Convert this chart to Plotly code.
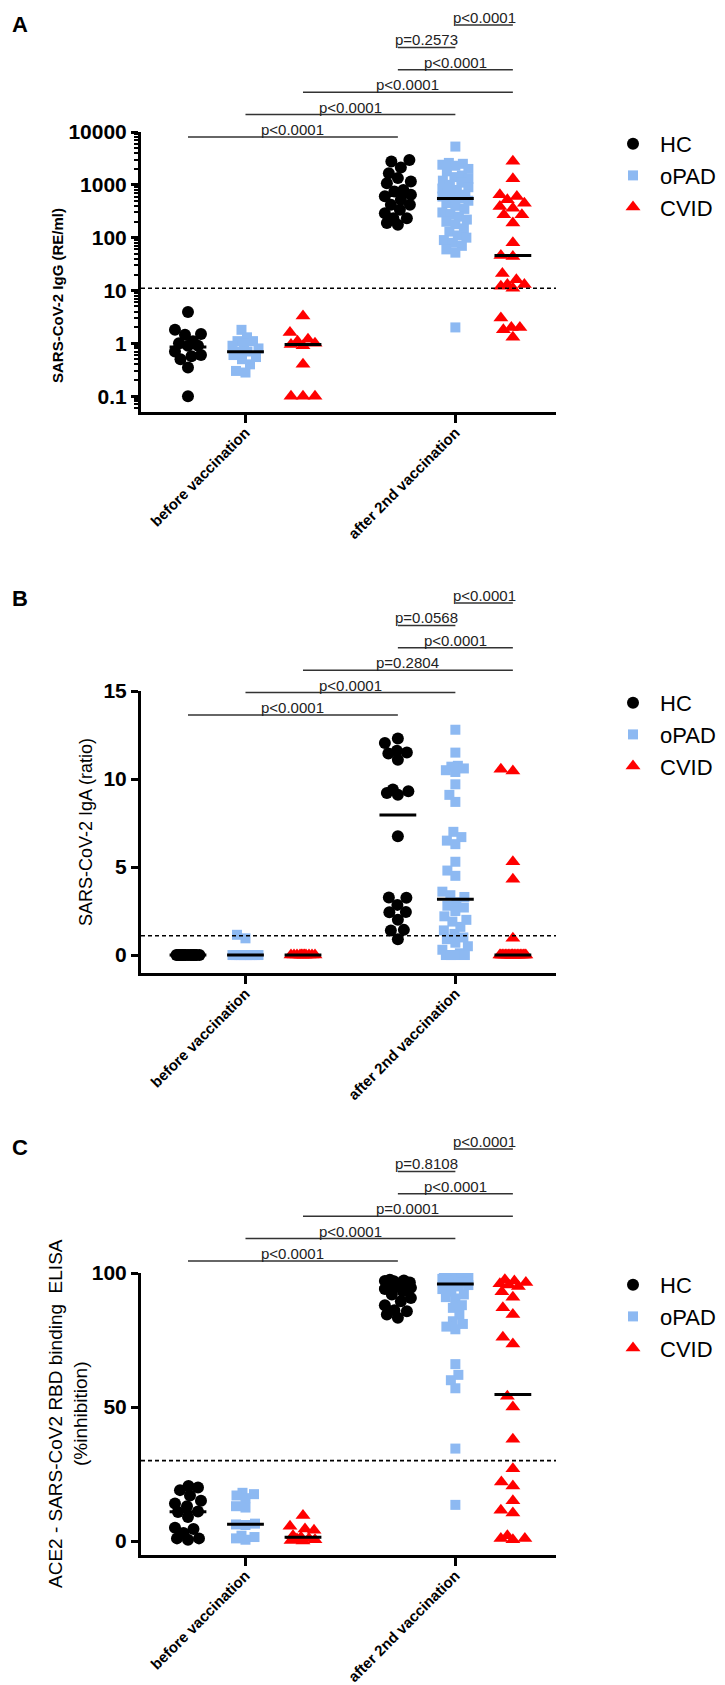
import numpy as np
import plotly.graph_objects as go

# ==========================================
# 1. data
# ==========================================
GROUPS = ["HC", "oPAD", "CVID"]
TIMEPOINTS = ["before vaccination", "after 2nd vaccination"]

# --- A: SARS-CoV-2 IgG (RE/ml), log scale ---
IGG_HC_BEFORE = [3.9, 1.8, 1.5, 1.45, 1.1, 1.0, 0.9, 0.9, 0.7, 0.6, 0.57, 0.5, 0.35, 0.1]
IGG_OPAD_BEFORE = [1.8, 1.3, 1.1, 1.1, 1.0, 0.9, 0.8, 0.7, 0.7, 0.6, 0.55, 0.5, 0.4, 0.3, 0.28]
IGG_CVID_BEFORE = [3.3, 1.6, 1.2, 1.1, 1.0, 0.95, 0.9, 0.4, 0.1, 0.1, 0.1]
IGG_HC_AFTER = [2950, 2770, 2130, 1660, 1340, 1160, 1075, 800, 750, 650,
                610, 520, 420, 420, 337, 291, 234, 234, 189, 175]
IGG_OPAD_AFTER = [5300, 2600, 2500, 2400, 2300, 2000, 1800, 1500, 1400, 1300,
                  1200, 1100, 1000, 900, 850, 800, 700, 650, 600, 560,
                  550, 500, 450, 400, 350, 300, 280, 250, 220, 200,
                  180, 150, 130, 110, 100, 90, 80, 70, 60, 52, 2.0]
IGG_CVID_AFTER = [2800, 1300, 650, 600, 520, 450, 390, 360, 270, 270, 190, 80,
                  46, 44, 21, 16, 13, 13, 12, 11, 3.0, 2.0, 2.0, 1.8, 1.3]
IGG_MEDIANS = [0.85, 0.69, 0.95, 630, 550, 46]
IGG_CUTOFF = 11
IGG_TICKS = [0.1, 1, 10, 100, 1000, 10000]
IGG_TICKTEXT = ["0.1", "1", "10", "100", "1000", "10000"]
IGG_PVALS = ["p<0.0001", "p<0.0001", "p<0.0001", "p<0.0001", "p=0.2573", "p<0.0001"]

# --- B: SARS-CoV-2 IgA (ratio) ---
IGA_HC_BEFORE = [0, 0, 0, 0, 0, 0, 0, 0, 0, 0, 0, 0, 0, 0]
IGA_OPAD_BEFORE = [1.15, 0.95, 0, 0, 0, 0, 0, 0, 0, 0, 0, 0, 0]
IGA_CVID_BEFORE = [0, 0, 0, 0, 0, 0, 0, 0, 0, 0, 0]
IGA_HC_AFTER = [12.3, 12.05, 11.6, 11.5, 11.45, 11.1, 9.4, 9.3, 9.2, 9.1,
                6.75, 3.27, 3.25, 2.85, 2.45, 2.43, 2.0, 1.43, 1.4, 0.9]
IGA_OPAD_AFTER = [12.8, 11.5, 10.75, 10.7, 10.6, 10.5, 10.4, 9.7, 9.1, 8.7,
                  7.0, 6.7, 6.5, 6.3, 5.3, 4.8, 4.5, 3.6, 3.4, 3.3,
                  3.0, 2.8, 2.7, 2.5, 2.2, 2.0, 1.9, 1.6, 1.4, 1.2,
                  1.0, 0.9, 0.7, 0.5, 0.3, 0.1, 0, 0, 0, 0]
IGA_CVID_AFTER = [10.55, 10.45, 5.3, 4.3, 0.95, 0, 0, 0, 0, 0,
                  0, 0, 0, 0, 0, 0, 0, 0, 0, 0, 0, 0, 0, 0, 0]
IGA_MEDIANS = [0, 0, 0, 7.95, 3.17, 0]
IGA_CUTOFF = 1.1
IGA_TICKS = [0, 5, 10, 15]
IGA_PVALS = ["p<0.0001", "p<0.0001", "p=0.2804", "p<0.0001", "p=0.0568", "p<0.0001"]

# --- C: ACE2 - RBD binding ELISA (%inhibition) ---
ACE_HC_BEFORE = [20.5, 20, 19, 17, 15, 14, 13, 11, 10.8, 9, 5, 4.5, 3, 1, 1, 0.5]
ACE_OPAD_BEFORE = [18, 17.5, 17, 16, 13, 12.5, 6.5, 6.2, 6, 2, 1.5, 1, 0.5]
ACE_CVID_BEFORE = [9.5, 5.5, 4.5, 4, 2, 1.4, 1, 0.8, 0.5, 0.2, 0]
ACE_HC_AFTER = [97.5, 97.2, 97, 96.9, 96.5, 96.2, 96, 95.5, 95, 94.5,
                94, 93.2, 92, 90.7, 89.5, 88, 86.1, 85.7, 84.5, 83.3]
ACE_OPAD_AFTER = [100, 99.8, 99.6, 99.5, 99.2, 99, 98.8, 98.5, 98.2, 98,
                  97.8, 97.5, 97.2, 97, 96.8, 96.5, 96.2, 96, 95.8, 95.5,
                  95, 94, 93, 92, 91, 90.5, 88, 87, 84.5, 82,
                  81, 80, 79, 66, 62, 60, 57, 34.5, 13.5]
ACE_CVID_AFTER = [97.5, 97, 96.5, 96, 95.5, 95, 93, 91, 87, 84.5, 76, 73.5,
                  54, 50, 38, 27, 22, 20.5, 15, 11.5, 10.5, 2, 1, 1, 0.5]
ACE_MEDIANS = [10.9, 6.25, 1.4, 94.5, 95.9, 54.7]
ACE_CUTOFF = 30
ACE_TICKS = [0, 50, 100]
ACE_PVALS = ["p<0.0001", "p<0.0001", "p=0.0001", "p<0.0001", "p=0.8108", "p<0.0001"]

# comparisons, lowest bracket first (column indices)
PAIRS = [(0, 3), (1, 4), (2, 5), (3, 5), (3, 4), (4, 5)]

# ==========================================
# 2. look & layout
# ==========================================
W, H = 725, 1685
FONT = "Liberation Sans, Arial, sans-serif"
COLORS = {"HC": "#000000", "oPAD": "#8DB9F2", "CVID": "#FF0000"}
SYMBOLS = {"HC": "circle", "oPAD": "square", "CVID": "triangle-up"}
SIZES = {"HC": 12, "oPAD": 10, "CVID": 13}

X_LEFT, X_RIGHT = 133, 548          # px of the x axis
COL_X = [1, 2, 3, 4.65, 5.65, 6.65]  # column centres
XRANGE = [0.183, 7.4]
TICK_X = [2, 5.65]
MED_HALF = 0.32
SWARM_HALF = 13                     # px
BRACKET_STEP = 22.4                 # px

PANELS = [
    dict(letter="A", cols=[IGG_HC_BEFORE, IGG_OPAD_BEFORE, IGG_CVID_BEFORE,
                           IGG_HC_AFTER, IGG_OPAD_AFTER, IGG_CVID_AFTER],
         med=IGG_MEDIANS, cut=IGG_CUTOFF, pvals=IGG_PVALS, log=True,
         yrange=[-1.3, 4], ticks=IGG_TICKS, ticktext=IGG_TICKTEXT,
         top=124, bottom=404, bracket0=129, letter_y=17,
         title="<b>SARS-CoV-2 IgG (RE/ml)</b>", title_x=50, title_y=288, title_size=15),
    dict(letter="B", cols=[IGA_HC_BEFORE, IGA_OPAD_BEFORE, IGA_CVID_BEFORE,
                           IGA_HC_AFTER, IGA_OPAD_AFTER, IGA_CVID_AFTER],
         med=IGA_MEDIANS, cut=IGA_CUTOFF, pvals=IGA_PVALS, log=False,
         yrange=[-1.02, 15], ticks=IGA_TICKS, ticktext=[str(t) for t in IGA_TICKS],
         top=683, bottom=965, bracket0=707, letter_y=590,
         title="SARS-CoV-2 IgA (ratio)", title_x=78, title_y=824, title_size=18),
    dict(letter="C", cols=[ACE_HC_BEFORE, ACE_OPAD_BEFORE, ACE_CVID_BEFORE,
                           ACE_HC_AFTER, ACE_OPAD_AFTER, ACE_CVID_AFTER],
         med=ACE_MEDIANS, cut=ACE_CUTOFF, pvals=ACE_PVALS, log=False,
         yrange=[-5.2, 100], ticks=ACE_TICKS, ticktext=[str(t) for t in ACE_TICKS],
         top=1265, bottom=1547, bracket0=1253, letter_y=1139,
         title="ACE2 - SARS-CoV2 RBD binding \u00a0ELISA<br>(%inhibition)",
         title_x=60, title_y=1406, title_size=19),
]


def swarm(ypx, d, half):
    """simple beeswarm: offsets (px) nearest the centre without overlap"""
    cands = np.arange(-half, half + 0.01, 0.5)
    cands = cands[np.argsort(np.abs(cands), kind="stable")]
    placed = []
    offs = np.zeros(len(ypx))
    for i in np.argsort(ypx, kind="stable"):
        y = ypx[i]
        best, bestd = 0.0, -1.0
        for c in cands:
            md = min((np.hypot(c - px, y - py) for px, py in placed), default=1e9)
            if md >= d * 0.92:
                best = c
                break
            if md > bestd + 0.01:
                bestd, best = md, c
        offs[i] = best
        placed.append((best, y))
    return offs


fig = go.Figure()
px_per_x = (X_RIGHT - X_LEFT) / (XRANGE[1] - XRANGE[0])

for p, P in enumerate(PANELS):
    sfx = "" if p == 0 else str(p + 1)
    xa, ya = "x" + sfx, "y" + sfx
    legend_id = "legend" + sfx
    dom_px = P["bottom"] - P["top"]
    px_per_y = dom_px / (P["yrange"][1] - P["yrange"][0])

    # points
    for g, name in enumerate(GROUPS):
        xs, ys = [], []
        for t in range(2):
            c = t * 3 + g
            vals = np.array(P["cols"][c], dtype=float)
            yv = np.log10(vals) if P["log"] else vals
            offs = swarm(yv * px_per_y, SIZES[name], SWARM_HALF)
            xs += list(COL_X[c] + offs / px_per_x)
            ys += list(vals)
        fig.add_trace(go.Scatter(
            x=xs, y=ys, mode="markers", name=name, xaxis=xa, yaxis=ya,
            legend=legend_id, showlegend=True,
            marker=dict(symbol=SYMBOLS[name], size=SIZES[name], color=COLORS[name],
                        line=dict(width=0)),
            hoverinfo="skip"))

    # medians
    mx, my = [], []
    for c, m in enumerate(P["med"]):
        mx += [COL_X[c] - MED_HALF, COL_X[c] + MED_HALF, None]
        my += [m, m, None]
    fig.add_trace(go.Scatter(x=mx, y=my, mode="lines", xaxis=xa, yaxis=ya,
                             line=dict(color="black", width=3), showlegend=False,
                             hoverinfo="skip"))
    # cut-off
    fig.add_trace(go.Scatter(x=XRANGE, y=[P["cut"], P["cut"]], mode="lines",
                             xaxis=xa, yaxis=ya, showlegend=False, hoverinfo="skip",
                             line=dict(color="black", width=1.6, dash="4px,3px")))

    # significance brackets
    for k, ((a, b), txt) in enumerate(zip(PAIRS, P["pvals"])):
        ypx = P["bracket0"] - k * BRACKET_STEP
        yd = (P["bottom"] - ypx) / dom_px
        fig.add_shape(type="line", xref=xa, yref=ya + " domain",
                      x0=COL_X[a], x1=COL_X[b], y0=yd, y1=yd,
                      line=dict(color="#333333", width=1.5))
        fig.add_annotation(text=txt.replace("<", "&lt;"), xref=xa, yref=ya + " domain",
                           x=(COL_X[a] + COL_X[b]) / 2, y=yd, yanchor="bottom",
                           showarrow=False, yshift=-3,
                           font=dict(size=15, color="#222222", family=FONT))

    # panel letter and y title
    fig.add_annotation(text="<b>%s</b>" % P["letter"], xref="paper", yref="paper",
                       x=2 / W, y=1 - P["letter_y"] / H, xanchor="left", yanchor="middle",
                       showarrow=False, font=dict(size=22, color="black", family=FONT))
    fig.add_annotation(text=P["title"], xref="paper", yref="paper",
                       x=P["title_x"] / W, y=1 - P["title_y"] / H, textangle=-90,
                       xanchor="center", yanchor="middle", showarrow=False,
                       font=dict(size=P["title_size"], color="black", family=FONT))

    ydom = [1 - P["bottom"] / H, 1 - P["top"] / H]
    fig.layout["xaxis" + sfx] = dict(
        domain=[X_LEFT / W, X_RIGHT / W], range=XRANGE, anchor=ya,
        showline=True, linecolor="black", linewidth=3, showgrid=False, zeroline=False,
        tickmode="array", tickvals=TICK_X, ticktext=TIMEPOINTS, tickangle=-45,
        ticks="outside", ticklen=8, tickwidth=3, tickcolor="black",
        ticklabelstandoff=-5,
        tickfont=dict(size=15, color="black", family=FONT, weight="bold"),
        automargin=False, fixedrange=True)
    yax = dict(
        domain=ydom, anchor=xa, showline=True, linecolor="black", linewidth=3,
        showgrid=False, zeroline=False, tickmode="array", tickvals=P["ticks"],
        ticktext=P["ticktext"], ticks="outside", ticklen=7, tickwidth=3,
        tickcolor="black", tickfont=dict(size=21, color="black", family=FONT, weight="bold"),
        automargin=False, fixedrange=True)
    if P["log"]:
        yax.update(type="log", range=P["yrange"],
                   minor=dict(ticks="outside", ticklen=4, tickwidth=1.5,
                              tickcolor="black", dtick="D1", showgrid=False))
    else:
        yax.update(range=P["yrange"])
    fig.layout["yaxis" + sfx] = yax

    fig.layout[legend_id] = dict(
        x=598 / W, y=1 - (P["top"] - 9) / H, xanchor="left", yanchor="top",
        bgcolor="rgba(0,0,0,0)", itemwidth=44, tracegroupgap=0,
        font=dict(size=22, color="black", family=FONT))

fig.update_layout(
    width=W, height=H, autosize=False,
    margin=dict(l=0, r=0, t=0, b=0),
    paper_bgcolor="white", plot_bgcolor="white",
    font=dict(family=FONT, color="black"),
)

fig.write_html("out.html")
